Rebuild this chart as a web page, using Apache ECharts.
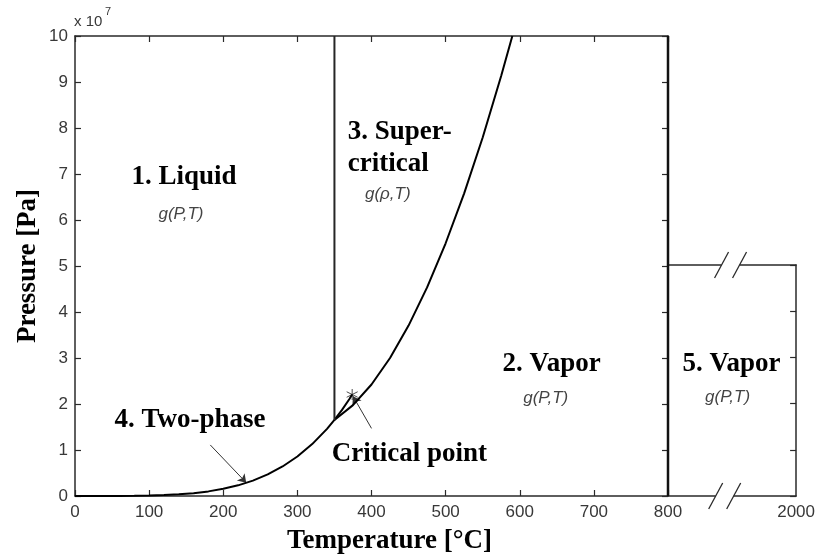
<!DOCTYPE html>
<html>
<head>
<meta charset="utf-8">
<script src="https://cdn.jsdelivr.net/npm/echarts@6/dist/echarts.min.js"></script>
<style>
  html, body { margin: 0; padding: 0; background: #fff; }
  #chart { width: 818px; height: 557px; }
</style>
</head>
<body>
<div id="chart"></div>
<script>
// Saturation line of water: temperature [°C] vs pressure [x 10^7 Pa]
const satTemp = [0, 20, 40, 60, 80, 100, 120, 140, 160, 180, 200, 220, 240, 260, 280, 300, 320, 340, 350, 360, 370, 373.946];
const satPres = [0.0000611, 0.000234, 0.000738, 0.001995, 0.004741, 0.010142, 0.019867, 0.036154, 0.061823, 0.10028,
                 0.15549, 0.23196, 0.33469, 0.46923, 0.64166, 0.85879, 1.1284, 1.4601, 1.6529, 1.8666, 2.1044, 2.2064];

// Boundary between region 2 and region 3
const b23Temp = [350, 375, 400, 425, 450, 475, 500, 525, 550, 575, 590];
const b23Pres = [1.6529, 1.975, 2.424, 3.000, 3.704, 4.535, 5.494, 6.580, 7.793, 9.134, 9.999];

// Region 1 / region 3 border at 350 °C and the 800 °C limit
const isoT350 = [[350, 1.6529], [350, 10]];
const isoT800 = [[800, 0], [800, 10]];

// Critical point
const critical = [373.946, 2.2064];

// Axis ranges and ticks
const tempMain = { min: 0, max: 800, step: 100 };
const tempHigh = { min: 800, max: 2000, step: 400 };
const presMain = { min: 0, max: 10, step: 1 };
const presHigh = { min: 0, max: 5, step: 1 };

const SERIF = '"Liberation Serif", "Times New Roman", serif';
const SANS = '"Liberation Sans", Arial, sans-serif';
const frameColor = '#2a2a2a';
const tickText = '#383838';

const zip = (a, b) => a.map((v, i) => [v, b[i]]);

const chart = echarts.init(document.getElementById('chart'), null, { renderer: 'canvas' });

const frameLine = { show: true, onZero: false, lineStyle: { color: frameColor, width: 1.5 } };
const inTick = { show: true, inside: true, length: 6, lineStyle: { color: frameColor, width: 1.2 } };
const label = { fontFamily: SANS, fontSize: 17, color: tickText };

const option = {
  animation: false,
  backgroundColor: '#fff',
  grid: [
    { left: 75, top: 36, width: 593, height: 460 },
    { left: 668, top: 265, width: 131, height: 231 }
  ],
  xAxis: [
    { gridIndex: 0, type: 'value', position: 'bottom', min: tempMain.min, max: tempMain.max, interval: tempMain.step,
      axisLine: frameLine, axisTick: inTick, splitLine: { show: false },
      axisLabel: Object.assign({ margin: 8 }, label) },
    { gridIndex: 0, type: 'value', position: 'top', min: tempMain.min, max: tempMain.max, interval: tempMain.step,
      axisLine: frameLine, axisTick: inTick, splitLine: { show: false }, axisLabel: { show: false } },
    { gridIndex: 1, type: 'value', position: 'bottom', min: tempHigh.min, max: tempHigh.max, interval: tempHigh.step,
      axisLine: frameLine, axisTick: { show: false }, splitLine: { show: false },
      axisLabel: Object.assign({ margin: 8, formatter: v => (v === tempHigh.max ? String(v) : '') }, label) },
    { gridIndex: 1, type: 'value', position: 'top', min: tempHigh.min, max: tempHigh.max, interval: tempHigh.step,
      axisLine: frameLine, axisTick: { show: false }, splitLine: { show: false }, axisLabel: { show: false } }
  ],
  yAxis: [
    { gridIndex: 0, type: 'value', position: 'left', min: presMain.min, max: presMain.max, interval: presMain.step,
      axisLine: frameLine, axisTick: inTick, splitLine: { show: false },
      axisLabel: Object.assign({ margin: 7 }, label) },
    { gridIndex: 0, type: 'value', position: 'right', min: presMain.min, max: presMain.max, interval: presMain.step,
      axisLine: frameLine, axisTick: inTick, splitLine: { show: false }, axisLabel: { show: false } },
    { gridIndex: 1, type: 'value', position: 'right', min: presHigh.min, max: presHigh.max, interval: presHigh.step,
      axisLine: frameLine, axisTick: inTick, splitLine: { show: false }, axisLabel: { show: false } }
  ],
  series: [
    { name: 'saturation', type: 'line', xAxisIndex: 0, yAxisIndex: 0, data: zip(satTemp, satPres),
      showSymbol: false, lineStyle: { color: '#000', width: 2 } },
    { name: 'b23', type: 'line', xAxisIndex: 0, yAxisIndex: 0, data: zip(b23Temp, b23Pres),
      showSymbol: false, lineStyle: { color: '#000', width: 2 } },
    { name: 't350', type: 'line', xAxisIndex: 0, yAxisIndex: 0, data: isoT350,
      showSymbol: false, lineStyle: { color: '#262626', width: 2 } },
    { name: 't800', type: 'line', xAxisIndex: 0, yAxisIndex: 0, data: isoT800,
      showSymbol: false, lineStyle: { color: '#111', width: 2.5 } },
    { name: 'critical', type: 'scatter', xAxisIndex: 0, yAxisIndex: 0, data: [critical],
      symbol: 'path://M5,0L5,10M0.7,2.5L9.3,7.5M0.7,7.5L9.3,2.5', symbolSize: 11,
      itemStyle: { color: 'rgba(0,0,0,0)', borderColor: '#222', borderWidth: 1 } },
    { name: 'pointers', type: 'lines', coordinateSystem: 'cartesian2d', xAxisIndex: 0, yAxisIndex: 0,
      symbol: ['none', 'arrow'], symbolSize: 8,
      lineStyle: { color: '#333', width: 1, opacity: 1 },
      data: [
        { coords: [[182.5, 1.11], [231, 0.29]] },
        { coords: [[400, 1.47], [375, 2.17]] }
      ] }
  ]
};
chart.setOption(option);

// Region labels, placed in axis units
const bold = { fontFamily: SERIF, fontWeight: 'bold', fontSize: 27, fill: '#000' };
const func = { fontFamily: SANS, fontStyle: 'italic', fontSize: 17, fill: '#444' };
const notes = [
  { g: 0, at: [147, 6.93], text: '1. Liquid', style: bold, align: 'center' },
  { g: 0, at: [143, 6.13], text: 'g(P,T)', style: func, align: 'center' },
  { g: 0, at: [368, 7.91], text: '3. Super-', style: bold, align: 'left' },
  { g: 0, at: [368, 7.22], text: 'critical', style: bold, align: 'left' },
  { g: 0, at: [422, 6.55], text: 'g(\u03C1,T)', style: func, align: 'center' },
  { g: 0, at: [643, 2.87], text: '2. Vapor', style: bold, align: 'center' },
  { g: 0, at: [635, 2.13], text: 'g(P,T)', style: func, align: 'center' },
  { g: 1, at: [1395, 2.86], text: '5. Vapor', style: bold, align: 'center' },
  { g: 1, at: [1358, 2.13], text: 'g(P,T)', style: func, align: 'center' },
  { g: 0, at: [155, 1.65], text: '4. Two-phase', style: bold, align: 'center' },
  { g: 0, at: [451, 0.91], text: 'Critical point', style: bold, align: 'center' }
];

const finder = g => (g === 0 ? { xAxisIndex: 0, yAxisIndex: 0 } : { xAxisIndex: 2, yAxisIndex: 2 });
const toPx = (g, p) => chart.convertToPixel(finder(g), p);

const graphics = notes.map(n => {
  const [x, y] = toPx(n.g, n.at);
  return { type: 'text', x, y, z: 100,
    style: Object.assign({ text: n.text, align: n.align, verticalAlign: 'middle' }, n.style) };
});

// Axis titles and exponent
const origin = toPx(0, [0, 0]);
const yTop = toPx(0, [0, presMain.max]);
const xEnd = toPx(1, [tempHigh.max, 0]);
graphics.push(
  { type: 'text', x: (origin[0] + xEnd[0]) / 2 - 46, y: origin[1] + 45, z: 100,
    style: { text: 'Temperature [\u00B0C]', align: 'center', verticalAlign: 'middle',
             fontFamily: SERIF, fontWeight: 'bold', fontSize: 27, fill: '#000' } },
  { type: 'text', x: origin[0] - 47, y: (origin[1] + yTop[1]) / 2, rotation: Math.PI / 2, z: 100,
    style: { text: 'Pressure [Pa]', align: 'center', verticalAlign: 'middle',
             fontFamily: SERIF, fontWeight: 'bold', fontSize: 27, fill: '#000' } },
  { type: 'text', x: yTop[0] - 1, y: yTop[1] - 14, z: 100,
    style: { text: 'x 10', align: 'left', verticalAlign: 'middle', fontFamily: SANS, fontSize: 15, fill: tickText } },
  { type: 'text', x: yTop[0] + 30, y: yTop[1] - 24, z: 100,
    style: { text: '7', align: 'left', verticalAlign: 'middle', fontFamily: SANS, fontSize: 11, fill: tickText } }
);

// Axis break marks on the 800–2000 °C panel
function breakMark(tCenter, pLevel) {
  const [cx, cy] = toPx(1, [tCenter, pLevel]);
  const out = [{ type: 'rect', z: 110, shape: { x: cx - 9, y: cy - 2, width: 18, height: 4 }, style: { fill: '#fff' } }];
  [-9, 9].forEach(d => {
    out.push({ type: 'line', z: 111,
      shape: { x1: cx + d - 7, y1: cy + 13, x2: cx + d + 7, y2: cy - 13 },
      style: { stroke: frameColor, lineWidth: 1.3 } });
  });
  return out;
}
graphics.push(...breakMark(1386, presHigh.max), ...breakMark(1331, presHigh.min));

chart.setOption({ graphic: graphics });
</script>
</body>
</html>
